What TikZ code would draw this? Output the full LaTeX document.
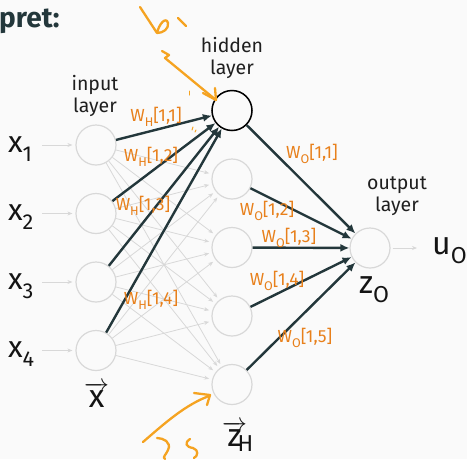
\documentclass[tikz,border=0pt]{standalone}
\usepackage{fontspec}
\setmainfont{Fira Sans}
\usepackage{graphicx}
\usetikzlibrary{arrows.meta}
\definecolor{bg}{HTML}{FAFAFA}
\definecolor{dark}{HTML}{23373B}
\definecolor{wlab}{HTML}{E8801B}
\definecolor{penc}{HTML}{F5A321}
\definecolor{lg}{HTML}{D8D8D8}
\newcommand{\lsub}[1]{\raisebox{-0.3em}{\scalebox{0.72}{#1}}}
\newcommand{\vsub}[1]{\kern1.5pt\raisebox{-0.18em}{\scalebox{0.72}{#1}}}
\newcommand{\varrow}[1]{\rlap{$\overrightarrow{\mbox{#1}}$}\phantom{#1}}
\begin{document}
\begin{tikzpicture}[x=1pt,y=-1pt,
  neuron/.style={circle, draw=lg, line width=1.2pt, minimum size=40pt, inner sep=0pt},
  gedge/.style={draw=lg, line width=0.8pt, -{Stealth[length=5pt,width=4pt]}, shorten >=3pt},
  dedge/.style={draw=dark, line width=2.4pt, -{Latex[length=9pt,width=8pt]}},
  wl/.style={text=wlab, font=\fontsize{17.5}{19}\selectfont, inner sep=0pt},
  lay/.style={align=center, font=\fontsize{19.5}{21.5}\selectfont, text=black!88, inner sep=0pt},
  var/.style={font=\fontsize{30}{32}\selectfont, text=black!92, inner sep=0pt, anchor=base west},
  bvar/.style={font=\fontsize{32}{34}\selectfont, text=black!92, inner sep=0pt, anchor=base west},
  pen/.style={draw=penc, line width=2.3pt, line cap=round, line join=round}]
\fill[bg] (0,0) rectangle (467,459);
\useasboundingbox (0,0) rectangle (467,459);

% title fragment
\node[anchor=base west, inner sep=0pt, text=dark, font=\fontsize{28}{30}\selectfont\bfseries] (title) at (-1,27) {pret:};

% neurons
\foreach \i/\y in {1/145,2/213.5,3/282,4/350.5}
  \node[neuron] (i\i) at (96,\y) {};
\foreach \j/\y in {1/110.5,2/179,3/247.5,4/316,5/384.5}
  \node[neuron] (h\j) at (232,\y) {};
\node[neuron, draw=black, line width=1.5pt] (h1) at (232,110.5) {};
\node[neuron] (o) at (370,248) {};

% layer labels
\node[lay] (il) at (95,96) {input\\layer};
\node[lay] (hl) at (232,58) {hidden\\layer};
\node[lay] (ol) at (397,196) {output\\layer};

% variables
\node[var] (x1) at (8,152) {x\lsub{1}};
\node[var] (x2) at (8,220.5) {x\lsub{2}};
\node[var] (x3) at (8,289) {x\lsub{3}};
\node[var] (x4) at (8,357.5) {x\lsub{4}};
\node[bvar] (xv) at (84,407) {\varrow{x}};
\node[bvar] (zh) at (222,446) {\varrow{z}\vsub{H}};
\node[bvar] (zo) at (359,293) {z\lsub{O}};
\node[bvar] (uo) at (432,254) {u\lsub{O}};

% input arrows
\foreach \i/\y in {1/145,2/213.5,3/282,4/350.5}{
  \coordinate (s\i) at (42,\y);
  \draw[gedge] (s\i) -- (i\i);
}
\coordinate (ue) at (420,248);
\draw[gedge, shorten <=2pt] (o) -- (ue);

% gray input-hidden edges
\foreach \i in {1,...,4}
  \foreach \j in {2,...,5}
    \draw[gedge] (i\i) -- (h\j);

% dark edges
\foreach \i in {1,...,4}
  \draw[dedge] (i\i) -- (h1);
\foreach \j in {1,...,5}
  \draw[dedge] (h\j) -- (o);

% weight labels
\node[wl] (w11) at (156,117) {W\lsub{H}[1,1]};
\node[wl] (w12) at (151,157) {W\lsub{H}[1,2]};
\node[wl] (w13) at (143,206) {W\lsub{H}[1,3]};
\node[wl] (w14) at (151,300) {W\lsub{H}[1,4]};
\node[wl] (v11) at (312,154) {W\lsub{O}[1,1]};
\node[wl] (v12) at (267,211) {W\lsub{O}[1,2]};
\node[wl] (v13) at (289,238) {W\lsub{O}[1,3]};
\node[wl] (v14) at (277,281) {W\lsub{O}[1,4]};
\node[wl] (v15) at (305,338) {W\lsub{O}[1,5]};

% handwriting
\draw[pen] (140,7) -- (157,33) .. controls (159,24) and (166,16) .. (168,23) .. controls (169,29) and (163,33) .. (157,33);
\draw[pen] (178,18) -- (186,26);
\draw[pen] (162,51) -- (169,55) -- (165,58) -- (216,100);
\draw[pen] (203,93) -- (216,100) -- (215,88);
\draw[pen, line width=1pt] (189,91) -- (189,95);
\draw[pen, line width=1pt] (193,127) -- (192,130);
\draw[pen, line width=1pt] (196,130) -- (195,132);
\draw[pen] (143,442) .. controls (165,423) and (185,405) .. (209,396);
\draw[pen] (194,393) -- (210,395) -- (207,405);
\draw[pen] (157,438) .. controls (163,438) and (172,442) .. (168,450) .. controls (166,455) and (162,457) .. (165,459);
\draw[pen] (190,439) .. controls (184,443) and (186,447) .. (193,448) .. controls (199,450) and (198,456) .. (194,458);
\end{tikzpicture}
\end{document}
